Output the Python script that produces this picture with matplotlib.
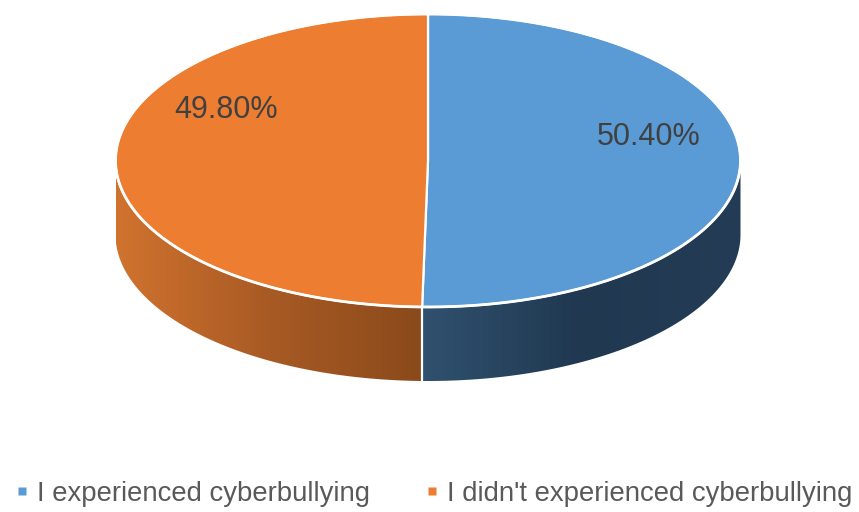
import numpy as np
import matplotlib.pyplot as plt
from matplotlib.patches import Polygon
from matplotlib.lines import Line2D
from matplotlib.colors import LinearSegmentedColormap

# Survey answers
labels = ["I experienced cyberbullying", "I didn't experienced cyberbullying"]
values = [50.40, 49.80]
value_text = ["50.40%", "49.80%"]

top_colors = ["#5b9bd5", "#ed7d31"]
side_colors = [("#30516f", "#203850", "#243c55"), ("#d0732f", "#a85a24", "#8a4a1b")]

W, H = 859, 512
cx, cy = 428, 160.5      # centre of the top face (pixels)
rx, ry = 312.5, 146.5    # radii of the top face
depth = 74               # thickness of the disc

fig = plt.figure(figsize=(W / 100, H / 100), dpi=100)
ax = fig.add_axes([0, 0, 1, 1])
ax.set_xlim(0, W)
ax.set_ylim(H, 0)
ax.axis('off')


def ell(phi, dy=0.0):
    # angle measured clockwise from 12 o'clock
    return cx + rx * np.sin(phi), cy - ry * np.cos(phi) + dy


fracs = np.array(values) / np.sum(values)
bounds = np.concatenate([[0], np.cumsum(fracs)]) * 2 * np.pi

# side walls (front half only: from 3 o'clock round to 9 o'clock)
for i in range(len(values)):
    a0 = max(bounds[i], np.pi / 2)
    a1 = min(bounds[i + 1], 3 * np.pi / 2)
    if a1 <= a0:
        continue
    t = np.linspace(a0, a1, 200)
    xt, yt = ell(t)
    xb, yb = ell(t[::-1], depth)
    pts = np.column_stack([np.concatenate([xt, xb]), np.concatenate([yt, yb])])
    poly = Polygon(pts, closed=True, facecolor='none', edgecolor='none')
    ax.add_patch(poly)
    x_lo, x_hi = pts[:, 0].min(), pts[:, 0].max()
    cmap = LinearSegmentedColormap.from_list('side%d' % i, side_colors[i])
    grad = np.linspace(0, 1, 256)[None, :]
    im = ax.imshow(grad, cmap=cmap, aspect='auto',
                   extent=[x_lo, x_hi, pts[:, 1].max(), pts[:, 1].min()],
                   interpolation='bilinear', zorder=1)
    im.set_clip_path(poly)

# split line on the side wall
for b in bounds[1:-1]:
    if np.pi / 2 < b < 3 * np.pi / 2:
        x0, y0 = ell(b)
        ax.plot([x0, x0], [y0, y0 + depth], color='white', lw=1.6, zorder=2)

# top face
for i in range(len(values)):
    t = np.linspace(bounds[i], bounds[i + 1], 300)
    xt, yt = ell(t)
    pts = np.column_stack([np.concatenate([[cx], xt]), np.concatenate([[cy], yt])])
    ax.add_patch(Polygon(pts, closed=True, facecolor=top_colors[i],
                         edgecolor='white', lw=1.6, joinstyle='round', zorder=3))

# outline of the top face
t = np.linspace(0, 2 * np.pi, 500)
ax.plot(*ell(t), color='white', lw=2, zorder=4)

# value labels
ax.text(649, 137, value_text[0], fontsize=22, color='#404040',
        family='Liberation Sans', ha='center', va='center', zorder=5)
ax.text(226, 110, value_text[1], fontsize=22, color='#404040',
        family='Liberation Sans', ha='center', va='center', zorder=5)

# legend
handles = [Line2D([], [], marker='s', ls='none', markersize=6,
                  markerfacecolor=c, markeredgecolor='none') for c in top_colors]
leg = ax.legend(handles, labels, loc='center', bbox_to_anchor=(0.505, 1 - 494 / H),
                ncol=2, frameon=False, handlelength=0.5, handletextpad=0.3,
                columnspacing=2.0, borderpad=0, borderaxespad=0,
                prop={'family': 'Liberation Sans', 'size': 19.8})
for txt in leg.get_texts():
    txt.set_color('#595959')

fig.savefig('out.png', dpi=100, facecolor='white')
